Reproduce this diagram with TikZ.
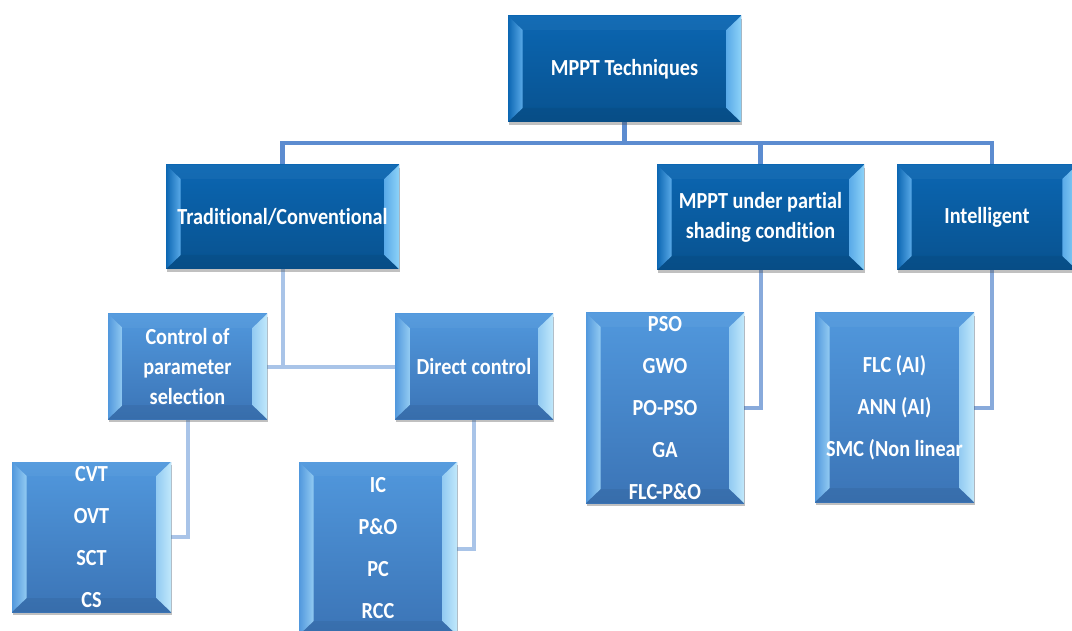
\documentclass[tikz,border=0pt]{standalone}
\usepackage{fontspec}
\setmainfont{Carlito}[FakeStretch=0.88, Ligatures=NoCommon]
\usetikzlibrary{shadows,backgrounds}
\definecolor{faceAt}{HTML}{0B66B2}
\definecolor{faceAb}{HTML}{08528F}
\definecolor{bevAl}{HTML}{5AAAE8}
\definecolor{bevAr}{HTML}{8CD2F8}
\definecolor{faceBt}{HTML}{5198DD}
\definecolor{faceBb}{HTML}{3B74B6}
\definecolor{bevBl}{HTML}{93CBF2}
\definecolor{bevBr}{HTML}{C0E8FB}
\definecolor{conAc}{HTML}{5C8CD0}
\definecolor{conMc}{HTML}{88AADB}
\definecolor{conBc}{HTML}{A9C4E8}
\newcommand\bevelpic[3]{%
  \path (path picture bounding box.south west) coordinate (bvSW)
        (path picture bounding box.north west) coordinate (bvNW)
        (path picture bounding box.north east) coordinate (bvNE)
        (path picture bounding box.south east) coordinate (bvSE);
  \shade[left color=#1, right color=#2]
    (bvSW) -- (bvNW) -- ([shift={(11pt,-10.5pt)}]bvNW) -- ([shift={(11pt,10.5pt)}]bvSW) -- cycle;
  \shade[left color=#2, right color=#3]
    (bvSE) -- (bvNE) -- ([shift={(-11pt,-10.5pt)}]bvNE) -- ([shift={(-11pt,10.5pt)}]bvSE) -- cycle;
  \fill[black, opacity=0.06]
    (bvSW) -- (bvSE) -- ([shift={(-11pt,10.5pt)}]bvSE) -- ([shift={(11pt,10.5pt)}]bvSW) -- cycle;
  \fill[white, opacity=0.04]
    (bvNW) -- (bvNE) -- ([shift={(-11pt,-10.5pt)}]bvNE) -- ([shift={(11pt,-10.5pt)}]bvNW) -- cycle;
}
\tikzset{
  sz/.style 2 args={minimum width=#1*0.75pt, minimum height=#2*0.75pt},
  box/.style={rectangle, inner sep=0pt, outer sep=0pt, text=white, align=center,
    font=\bfseries\fontsize{17.25}{22.5}\selectfont,
    drop shadow={shadow xshift=1pt, shadow yshift=-2.5pt, opacity=0.35, fill=black!70}},
  boxA/.style={box, top color=faceAt, bottom color=faceAb,
    path picture={\bevelpic{faceAt}{bevAl}{bevAr}}},
  boxB/.style={box, top color=faceBt, bottom color=faceBb,
    path picture={\bevelpic{faceBt}{bevBl}{bevBr}}},
  listbox/.style={boxB, font=\bfseries\fontsize{17.25}{31.5}\selectfont},
  conA/.style={draw=conAc, line width=3.5pt},
  conM/.style={draw=conMc, line width=3pt},
  conB/.style={draw=conBc, line width=3pt},
}
\begin{document}
\begin{tikzpicture}[x=0.75pt, y=-0.75pt]
\useasboundingbox (0,0) rectangle (1072,631);
\clip (0,0) rectangle (1072,631);
% level 0 and 1
\node[boxA, sz={233}{106}] (top) at (624.5,69) {MPPT Techniques};
\node[boxA, sz={233}{104}] (trad) at (282.5,217) {Traditional/Conventional};
\node[boxA, sz={207}{105}] (part) at (760.5,217.5) {MPPT under partial\\shading condition};
\node[boxA, sz={180}{105}] (intel) at (987,217.5) {Intelligent};
% level 2
\node[boxB, sz={159}{105}] (ctrl) at (187.5,366.5) {Control of\\parameter\\selection};
\node[boxB, sz={158}{105}] (direct) at (474,366.5) {Direct control};
% lists
\node[listbox, sz={159}{150}] (cvt) at (91.5,537) {CVT\\OVT\\SCT\\CS};
\node[listbox, sz={158}{173}] (ic) at (378,548.5) {IC\\P\&O\\PC\\RCC};
\node[listbox, sz={158}{190}] (pso) at (665,408) {PSO\\GWO\\PO-PSO\\GA\\FLC-P\&O};
\node[listbox, sz={159}{189}] (flc) at (894.5,407.5) {FLC (AI)\\ANN (AI)\\SMC (Non linear};
\begin{scope}[on background layer]
\fill[white] (0,0) rectangle (1072,631);
\coordinate (bus) at (624.5,143);
\draw[conA] (top.south) -- (bus);
\draw[conA] (trad.north) |- ([xshift=3.75pt]intel.north |- bus) -- ([xshift=3.75pt]intel.north);
\draw[conA] (bus) -| (part.north);
\draw[conB] (trad.south) -- (trad.south |- ctrl.east);
\draw[conB] (ctrl.east) -- (direct.west);
\draw[conB] (ctrl.south) |- (cvt.east);
\draw[conB] (direct.south) |- (ic.east);
\draw[conM] (part.south) |- (pso.east);
\draw[conM] ([xshift=3.75pt]intel.south) |- (flc.east);
\end{scope}
\end{tikzpicture}
\end{document}
